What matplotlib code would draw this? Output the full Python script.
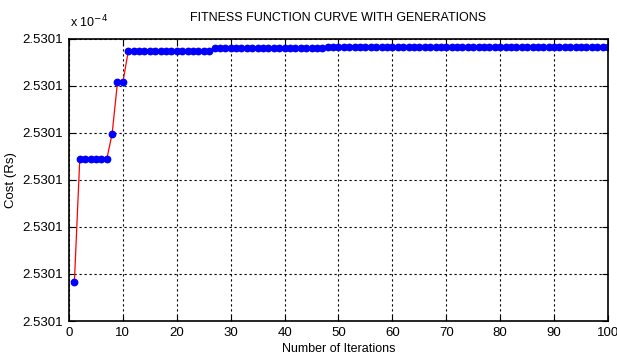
import matplotlib
matplotlib.use("Agg")
import matplotlib.pyplot as plt
from matplotlib.ticker import FormatStrFormatter
import numpy as np

# cost values in units of 1e-4
iterations = list(range(1, 101))
cost = ([2.5301041]
        + [2.5301172] * 6
        + [2.5301199]
        + [2.5301254] * 2
        + [2.5301287] * 16
        + [2.5301290] * 21
        + [2.5301292] * 53)

y_ticks = [2.530100, 2.530105, 2.530110, 2.530115, 2.530120, 2.530125, 2.530130]
x_ticks = list(range(0, 101, 10))

plt.rcParams['font.family'] = ['Liberation Sans', 'DejaVu Sans']

fig = plt.figure(figsize=(6.17, 3.61), dpi=100)
ax = fig.add_axes([0.1118, 0.1108, 0.8736, 0.7812])

# red line with blue dots
ax.plot(iterations, cost, color='red', lw=0.9, marker='o', ms=4.6,
        mfc='blue', mec='blue')

ax.set_xlim(0, 100)
ax.set_ylim(y_ticks[0], y_ticks[-1])
ax.set_xticks(x_ticks)
ax.set_yticks(y_ticks)
ax.yaxis.set_major_formatter(FormatStrFormatter('%.4f'))
ax.tick_params(direction='in', top=True, right=True, labelsize=9.5, length=4, pad=4)

ax.grid(True, color='black', linestyle=(0, (2, 2.5)), linewidth=0.8)
for sp in ax.spines.values():
    sp.set_linewidth(1.2)

ax.set_title("FITNESS FUNCTION CURVE WITH GENERATIONS", fontsize=9, pad=13)
ax.set_xlabel("Number of Iterations", fontsize=9, labelpad=3)
ax.set_ylabel("Cost (Rs)", fontsize=9.5, labelpad=4)
fig.text(0.113, 0.925, r"x 10$^{-4}$", fontsize=9)

fig.savefig("out.png", dpi=100)
